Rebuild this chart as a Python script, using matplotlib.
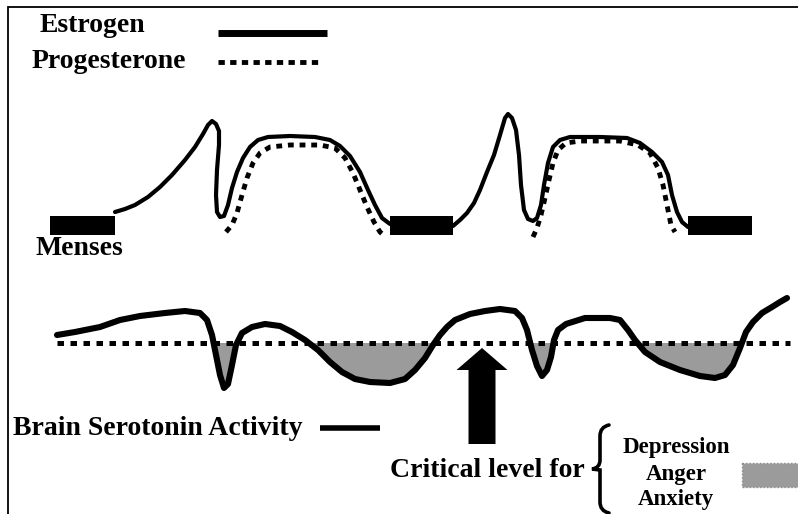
import matplotlib
matplotlib.use("Agg")
import matplotlib.pyplot as plt
import numpy as np
from matplotlib.path import Path
from matplotlib.patches import PathPatch

# ---- data (schematic units: x = position across cycle, y = level, screen-down) ----
estrogen1_x = [115,125,135,148,160,172,185,195,203,208,212,216,219,219,217,216,217,220,224,228,232,237,243,250,258,268,290,315,330,340,350,360,368,375,382,390]
estrogen1_y = [212,209,205,197,187,175,160,147,134,125,121,124,131,145,170,195,212,217,216,205,188,172,158,147,140,137,136,137,140,146,156,172,190,205,218,224]
estrogen2_x = [453,460,467,474,480,487,494,500,505,508,512,516,519,521,524,528,533,537,541,544,548,553,560,570,600,627,640,652,662,668,672,677,682,688]
estrogen2_y = [226,220,213,203,190,172,155,135,118,114,118,130,155,185,210,219,221,218,205,185,163,147,140,137,137,138,143,152,162,175,195,212,222,227]

progest1_x = [226,232,237,242,247,253,260,270,290,320,335,345,353,360,367,374,380,386]
progest1_y = [232,225,213,195,178,163,153,147,145,145,148,158,173,190,207,222,232,237]
progest2_x = [533,537,541,545,549,553,558,566,580,620,638,650,658,663,667,671,675]
progest2_y = [237,228,215,198,180,163,150,143,141,141,145,153,168,185,205,225,232]

menses_start = [50, 390, 688]
menses_width = [65, 63, 64]
menses_top = 216
menses_height = 19

serotonin_x = [57,75,100,120,140,165,185,200,207,212,216,220,224,228,232,236,242,252,265,280,292,305,318,330,342,355,370,390,405,415,425,433,440,447,455,470,485,500,515,522,527,532,537,542,547,551,554,558,566,585,610,620,628,635,645,660,680,700,715,725,733,740,746,753,762,772,780,787]
serotonin_y = [335,332,327,320,316,313,311,313,320,335,355,375,388,384,365,345,333,327,324,326,332,340,350,362,372,379,382,383,379,370,358,345,335,327,320,314,311,309,311,318,330,350,366,376,370,357,340,330,324,318,318,320,330,340,352,362,370,376,378,375,365,348,332,322,313,307,302,298]

critical_level = 343
critical_x = [57, 790]

arrow_x = 482
arrow_base = 444
arrow_tip = 348

legend_labels = ["Estrogen", "Progesterone"]
effects = ["Depression", "Anger", "Anxiety"]

# ---- figure ----
fig = plt.figure(figsize=(7.98, 5.14), dpi=100)
ax = fig.add_axes([0, 0, 1, 1])
ax.set_xlim(0, 798)
ax.set_ylim(514, 0)
ax.axis("off")

serif = "Liberation Serif"
fs = 20

# border (left & top)
ax.plot([7.5, 7.5, 798], [514, 6.5, 6.5], color="black", lw=1.3, solid_joinstyle="miter")

# legend
ax.text(40, 32, legend_labels[0], fontfamily=serif, fontweight="bold", fontsize=fs, va="baseline", ha="left")
ax.text(32, 68, legend_labels[1], fontfamily=serif, fontweight="bold", fontsize=fs, va="baseline", ha="left")
ax.plot([218, 327], [33, 33], color="black", lw=5, solid_capstyle="butt")
ax.plot([218, 322], [62, 62], color="black", lw=3.5, linestyle=(0, (1.3, 1.1)), dash_capstyle="butt")

# hormones
ax.plot(estrogen1_x, estrogen1_y, color="black", lw=3, solid_joinstyle="round", solid_capstyle="round")
ax.plot(estrogen2_x, estrogen2_y, color="black", lw=3, solid_joinstyle="round", solid_capstyle="round")
dot = dict(color="black", lw=3.5, linestyle=(0, (1.2, 1.2)), dash_capstyle="butt")
ax.plot(progest1_x, progest1_y, **dot)
ax.plot(progest2_x, progest2_y, **dot)

ax.broken_barh(list(zip(menses_start, menses_width)), (menses_top, menses_height), facecolors="black")
ax.text(35, 255, "Menses", fontfamily=serif, fontweight="bold", fontsize=fs, va="baseline", ha="left")

# serotonin
sx = np.array(serotonin_x, float)
sy = np.array(serotonin_y, float)
ax.fill_between(sx, sy, critical_level, where=sy > critical_level, interpolate=True,
                color="#9b9b9b", lw=0)
ax.plot(critical_x, [critical_level]*2, color="black", lw=3.6, linestyle=(0, (1.3, 1.3)), dash_capstyle="butt")
ax.plot(sx, sy, color="black", lw=4.4, solid_joinstyle="round", solid_capstyle="round")

ax.text(13, 435, "Brain Serotonin Activity", fontfamily=serif, fontweight="bold", fontsize=fs, va="baseline", ha="left")
ax.plot([320, 380], [428, 428], color="black", lw=4, solid_capstyle="butt")

# arrow
ax.arrow(arrow_x, arrow_base, 0, arrow_tip - arrow_base, width=27, head_width=51,
         head_length=22, length_includes_head=True, color="black", lw=0)

ax.text(390, 477, "Critical level for", fontfamily=serif, fontweight="bold", fontsize=fs, va="baseline", ha="left")

# brace
verts = [(609, 425), (600, 427), (600, 436), (600, 460),
         (600, 468), (592, 469), (592, 469),
         (592, 469), (600, 470), (600, 478), (600, 502),
         (600, 511), (609, 513)]
codes = [Path.MOVETO, Path.CURVE3, Path.CURVE3, Path.LINETO,
         Path.CURVE3, Path.CURVE3, Path.LINETO,
         Path.CURVE3, Path.CURVE3, Path.LINETO, Path.LINETO,
         Path.CURVE3, Path.CURVE3]
ax.add_patch(PathPatch(Path(verts, codes), fill=False, lw=2.6, edgecolor="black", capstyle="round"))

for lbl, yb in zip(effects, [453, 480, 505]):
    ax.text(676, yb, lbl, fontfamily=serif, fontweight="bold", fontsize=16.5, va="baseline", ha="center")

ax.add_patch(plt.Rectangle((742, 463), 60, 24, facecolor="#9b9b9b", edgecolor="#8a8a8a",
                           lw=1, linestyle=(0, (1, 1.5))))

fig.savefig("out.png", dpi=100)
